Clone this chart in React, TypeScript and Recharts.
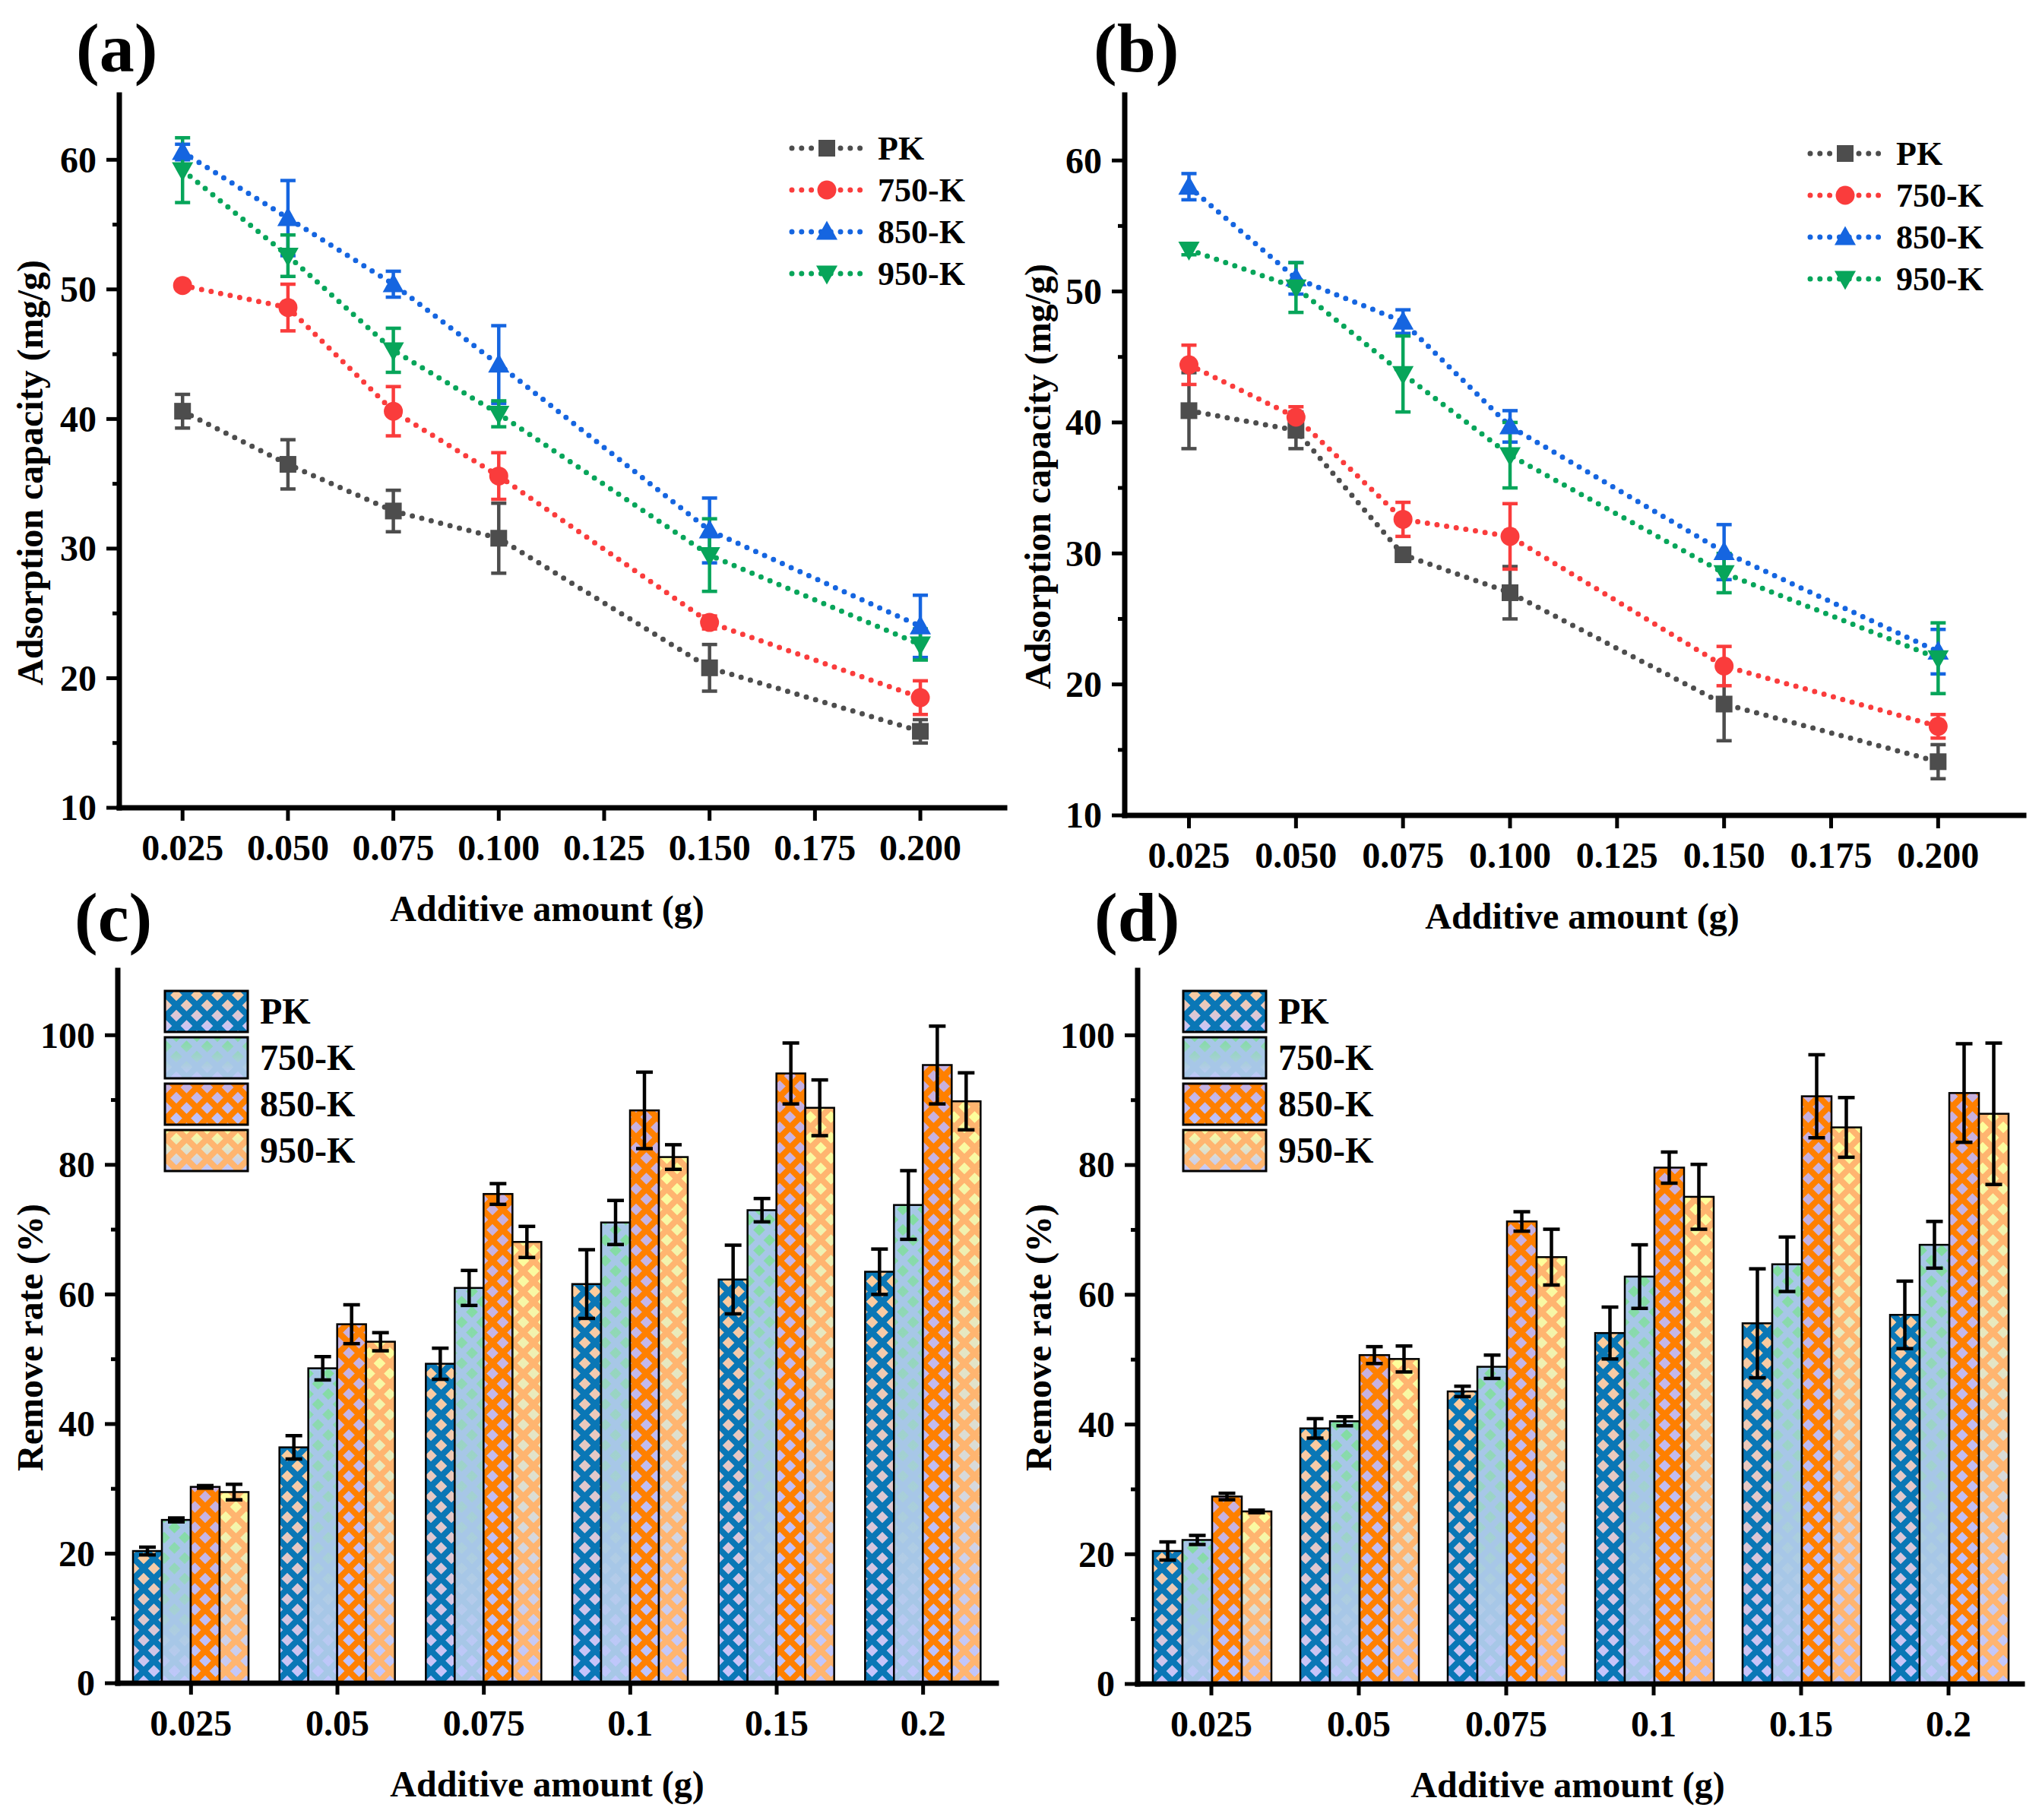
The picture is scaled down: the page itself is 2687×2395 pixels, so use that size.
import React from 'react'
import { LineChart, Line, BarChart, Bar, XAxis, YAxis, ErrorBar, Legend } from 'recharts'

const FONT = '"Liberation Serif", "Times New Roman", serif'

// x values of the adsorption curves
const doses = [0.025, 0.05, 0.075, 0.1, 0.15, 0.2]
const doseTicks = [0.025, 0.05, 0.075, 0.1, 0.125, 0.15, 0.175, 0.2]
const capTicks = [10, 15, 20, 25, 30, 35, 40, 45, 50, 55, 60]

// (a) adsorption capacity (mg/g)
const aPK = [40.6, 36.5, 32.9, 30.8, 20.8, 15.9]
const aPKErr = [1.3, 1.9, 1.6, 2.7, 1.8, 0.9]
const a750 = [50.3, 48.6, 40.6, 35.6, 24.3, 18.5]
const a750Err = [0.3, 1.8, 1.9, 1.8, 0.5, 1.3]
const a850 = [60.6, 55.5, 50.4, 44.2, 31.4, 24.0]
const a850Err = [0.6, 2.9, 1.0, 3.0, 2.5, 2.4]
const a950 = [59.2, 52.6, 45.3, 40.4, 29.5, 22.6]
const a950Err = [2.5, 1.6, 1.7, 1.0, 2.8, 1.2]

// (b) adsorption capacity (mg/g)
const bPK = [40.9, 39.4, 29.9, 27.0, 18.5, 14.1]
const bPKErr = [2.9, 1.4, 0.5, 2.0, 2.8, 1.3]
const b750 = [44.4, 40.4, 32.6, 31.3, 21.4, 16.8]
const b750Err = [1.5, 0.8, 1.3, 2.5, 1.5, 0.9]
const b850 = [58.0, 51.0, 47.7, 39.7, 30.1, 22.5]
const b850Err = [1.0, 1.2, 0.9, 1.2, 2.1, 1.7]
const b950 = [53.2, 50.3, 43.7, 37.5, 28.5, 22.0]
const b950Err = [0.4, 1.9, 2.9, 2.5, 1.5, 2.7]

// bar categories
const doseCats = ['0.025', '0.05', '0.075', '0.1', '0.15', '0.2']
const rateTicks = [0, 10, 20, 30, 40, 50, 60, 70, 80, 90, 100]

// (c) remove rate (%)
const cPK = [20.4, 36.4, 49.3, 61.6, 62.3, 63.5]
const cPKErr = [0.6, 1.8, 2.4, 5.3, 5.3, 3.5]
const c750 = [25.2, 48.6, 61.0, 71.1, 73.0, 73.8]
const c750Err = [0.3, 1.8, 2.7, 3.4, 1.8, 5.3]
const c850 = [30.3, 55.4, 75.5, 88.4, 94.1, 95.4]
const c850Err = [0.2, 3.0, 1.6, 5.9, 4.7, 6.0]
const c950 = [29.5, 52.7, 68.1, 81.2, 88.8, 89.8]
const c950Err = [1.2, 1.4, 2.4, 1.9, 4.3, 4.4]

// (d) remove rate (%)
const dPK = [20.5, 39.4, 45.1, 54.1, 55.6, 56.9]
const dPKErr = [1.4, 1.5, 0.8, 4.0, 8.4, 5.2]
const d750 = [22.2, 40.5, 48.9, 62.8, 64.7, 67.7]
const d750Err = [0.7, 0.7, 1.8, 4.9, 4.2, 3.6]
const d850 = [28.9, 50.7, 71.3, 79.6, 90.6, 91.1]
const d850Err = [0.5, 1.3, 1.5, 2.4, 6.4, 7.6]
const d950 = [26.6, 50.1, 65.8, 75.1, 85.8, 87.9]
const d950Err = [0.2, 2.0, 4.3, 5.0, 4.6, 10.9]

const seriesNames = ['PK', '750-K', '850-K', '950-K']
const lineColors = ['#4d4d4d', '#fa3c3c', '#1565e0', '#07a55a']
const markerShapes = ['square', 'circle', 'up', 'down']

const barLattice = ['#0a77b6', '#a7c7e7', '#ff8000', '#ffb570']
const barTop = ['#ffcc99', '#80dd9f', '#c8b0de', '#ffff99']
const barBottom = ['#c4c4ff', '#c2c6ff', '#bcc4ff', '#c0c4ff']

const buildRows = (xs: any[], vals: number[][], errs: number[][]) =>
  xs.map((x, i) => {
    const row: any = { x }
    vals.forEach((v, k) => {
      row[`s${k}`] = v[i]
      row[`e${k}`] = errs[k][i]
    })
    return row
  })

const txt = { fontFamily: FONT, fontWeight: 700, fill: '#000' }

const marker = (shape: string, cx: number, cy: number, color: string, key?: string) => {
  if (shape === 'square') return <rect key={key} x={cx - 11} y={cy - 11} width={22} height={22} fill={color} />
  if (shape === 'circle') return <circle key={key} cx={cx} cy={cy} r={12.5} fill={color} />
  if (shape === 'up')
    return <polygon key={key} points={`${cx},${cy - 14.5} ${cx - 14},${cy + 10.5} ${cx + 14},${cy + 10.5}`} fill={color} />
  return <polygon key={key} points={`${cx - 14},${cy - 10.5} ${cx + 14},${cy - 10.5} ${cx},${cy + 14.5}`} fill={color} />
}

// left axis ticks with minor ticks between labelled ones
const makeYTick = (axisX: number, majorStep: number) => (props: any) => {
  const { y, payload } = props
  const v = payload.value
  const major = Math.abs(v / majorStep - Math.round(v / majorStep)) < 1e-6
  const len = major ? 17 : 9
  return (
    <g>
      <line x1={axisX - len} x2={axisX} y1={y} y2={y} stroke="#000" strokeWidth={5} />
      {major && (
        <text x={axisX - 30} y={y} dy="0.34em" textAnchor="end" fontSize={48} {...txt}>
          {v}
        </text>
      )}
    </g>
  )
}

const frame = { stroke: '#000', strokeWidth: 7, strokeLinecap: 'square' as const }
const tickFont = { fontSize: 48, ...txt }

// keep legend rows in series order (recharts sorts them by name)
const ordered = (payload: any[] = []) =>
  [...payload].sort((p, q) => seriesNames.indexOf(p.value) - seriesNames.indexOf(q.value))

const LineLegend = (props: any) => (
  <svg width={280} height={230}>
    {ordered(props.payload).map((entry: any, i: number) => {
      const k = seriesNames.indexOf(entry.value)
      const cy = 33 + i * 55
      return (
        <g key={entry.value}>
          <line x1={12} x2={103} y1={cy} y2={cy} stroke={lineColors[k]} strokeWidth={7}
            strokeDasharray="0 12.8" strokeLinecap="round" />
          {marker(markerShapes[k], 58, cy, lineColors[k])}
          <text x={125} y={cy} dy="0.34em" fontSize={44} {...txt}>{entry.value}</text>
        </g>
      )
    })}
  </svg>
)

const LinePanel = ({ rows, pos }: { rows: any[]; pos: any }) => (
  <div style={{ position: 'absolute', left: pos.left, top: pos.top }}>
    <LineChart width={pos.width} height={pos.height} data={rows}
      margin={{ top: pos.marginTop, right: 10, bottom: 0, left: 0 }}>
      <XAxis dataKey="x" type="number" domain={[0.01, 0.22]} ticks={doseTicks} interval={0}
        tickFormatter={(v: number) => v.toFixed(3)} height={165} tickSize={17} tickMargin={18}
        axisLine={frame} tickLine={{ stroke: '#000', strokeWidth: 5 }} tick={tickFont} />
      <XAxis xAxisId="top" orientation="top" dataKey="x" type="number" domain={[0.01, 0.22]}
        height={0} tick={false} tickLine={false} axisLine={frame} />
      <YAxis type="number" domain={[10, 65]} ticks={capTicks} interval={0} width={pos.yw}
        tickLine={false} axisLine={frame} tick={makeYTick(pos.yw, 10)} />
      <YAxis yAxisId="right" orientation="right" type="number" domain={[10, 65]} width={0}
        tick={false} tickLine={false} axisLine={frame} />
      <Legend layout="vertical" align="center" verticalAlign="middle" content={LineLegend}
        wrapperStyle={{ left: 1030, top: pos.legendTop, width: 280, height: 230 }} />
      {seriesNames.map((name, k) => (
        <Line key={name} name={name} dataKey={`s${k}`} stroke={lineColors[k]} strokeWidth={7}
          strokeDasharray="0 12.8" strokeLinecap="round" isAnimationActive={false} activeDot={false}
          dot={(p: any) => marker(markerShapes[k], p.cx, p.cy, lineColors[k], `${name}-${p.index}`)}>
          <ErrorBar dataKey={`e${k}`} direction="y" width={10} strokeWidth={4.5} stroke={lineColors[k]} />
        </Line>
      ))}
      <text x={pos.xTitle[0]} y={pos.xTitle[1]} dy="0.34em" textAnchor="middle" fontSize={48} {...txt}>
        Additive amount (g)
      </text>
      <text x={pos.yTitle[0]} y={pos.yTitle[1]} dy="0.34em" textAnchor="middle" fontSize={48} {...txt}
        transform={`rotate(-90 ${pos.yTitle[0]} ${pos.yTitle[1]})`}>
        Adsorption capacity (mg/g)
      </text>
    </LineChart>
  </div>
)

const BarDefs = ({ id }: { id: string }) => (
  <defs>
    {seriesNames.map((_, k) => (
      <React.Fragment key={k}>
        <linearGradient id={`${id}-g${k}`} x1="0" y1="0" x2="0" y2="1">
          <stop offset="0%" stopColor={barTop[k]} />
          <stop offset="100%" stopColor={barBottom[k]} />
        </linearGradient>
        <pattern id={`${id}-p${k}`} patternUnits="userSpaceOnUse" width={27} height={27}>
          <path d="M-5,-5 L32,32 M32,-5 L-5,32 M-5,22 L5,32 M22,-5 L32,5 M-5,5 L5,-5 M22,32 L32,22"
            stroke={barLattice[k]} strokeWidth={8} fill="none" />
        </pattern>
      </React.Fragment>
    ))}
  </defs>
)

const makeBarShape = (id: string, k: number) => (p: any) => {
  const { x, y, width, height } = p
  if (!height || height <= 0) return <g />
  return (
    <g>
      <rect x={x} y={y} width={width} height={height} fill={`url(#${id}-g${k})`} />
      <rect x={x} y={y} width={width} height={height} fill={`url(#${id}-p${k})`} />
      <rect x={x} y={y} width={width} height={height} fill="none" stroke="#000" strokeWidth={2.5} />
    </g>
  )
}

const makeBarLegend = (id: string) => (props: any) => (
  <svg width={300} height={260}>
    {ordered(props.payload).map((entry: any, i: number) => {
      const k = seriesNames.indexOf(entry.value)
      const top = 8 + i * 61
      return (
        <g key={entry.value}>
          <rect x={12} y={top} width={109} height={54} fill={`url(#${id}-g${k})`} />
          <rect x={12} y={top} width={109} height={54} fill={`url(#${id}-p${k})`} />
          <rect x={12} y={top} width={109} height={54} fill="none" stroke="#000" strokeWidth={3} />
          <text x={137} y={top + 27} dy="0.34em" fontSize={48} {...txt}>{entry.value}</text>
        </g>
      )
    })}
  </svg>
)

const BarPanel = ({ rows, pos, id }: { rows: any[]; pos: any; id: string }) => (
  <div style={{ position: 'absolute', left: pos.left, top: pos.top }}>
    <BarChart width={pos.width} height={pos.height} data={rows} barCategoryGap={20} barGap={0}
      margin={{ top: pos.marginTop, right: 10, bottom: 0, left: 0 }}>
      <BarDefs id={id} />
      <XAxis dataKey="x" height={165} tickSize={15} tickMargin={20} interval={0}
        axisLine={frame} tickLine={{ stroke: '#000', strokeWidth: 5 }} tick={tickFont} />
      <XAxis xAxisId="top" orientation="top" dataKey="x" height={0} tick={false} tickLine={false} axisLine={frame} />
      <YAxis type="number" domain={[0, 110]} ticks={rateTicks} interval={0} width={pos.yw}
        tickLine={false} axisLine={frame} tick={makeYTick(pos.yw, 20)} />
      <YAxis yAxisId="right" orientation="right" type="number" domain={[0, 110]} width={0}
        tick={false} tickLine={false} axisLine={frame} />
      <Legend layout="vertical" align="center" verticalAlign="middle" content={makeBarLegend(id)}
        wrapperStyle={{ left: 205, top: 96, width: 300, height: 260 }} />
      {seriesNames.map((name, k) => (
        <Bar key={name} name={name} dataKey={`s${k}`} fill={barLattice[k]} shape={makeBarShape(id, k)}
          isAnimationActive={false}>
          <ErrorBar dataKey={`e${k}`} direction="y" width={11} strokeWidth={4.5} stroke="#000" />
        </Bar>
      ))}
      <text x={pos.xTitle[0]} y={pos.xTitle[1]} dy="0.34em" textAnchor="middle" fontSize={48} {...txt}>
        Additive amount (g)
      </text>
      <text x={pos.yTitle[0]} y={pos.yTitle[1]} dy="0.34em" textAnchor="middle" fontSize={48} {...txt}
        transform={`rotate(-90 ${pos.yTitle[0]} ${pos.yTitle[1]})`}>
        Remove rate (%)
      </text>
    </BarChart>
  </div>
)

const rowsA = buildRows(doses, [aPK, a750, a850, a950], [aPKErr, a750Err, a850Err, a950Err])
const rowsB = buildRows(doses, [bPK, b750, b850, b950], [bPKErr, b750Err, b850Err, b950Err])
const rowsC = buildRows(doseCats, [cPK, c750, c850, c950], [cPKErr, c750Err, c850Err, c950Err])
const rowsD = buildRows(doseCats, [dPK, d750, d850, d950], [dPKErr, d750Err, d850Err, d950Err])

const posA = { left: 0, top: 0, width: 1332, height: 1228, marginTop: 125, yw: 157, legendTop: 162, xTitle: [720, 1196], yTitle: [40, 622] }
const posB = { left: 1340, top: 0, width: 1333, height: 1238, marginTop: 125, yw: 140, legendTop: 169, xTitle: [742, 1206], yTitle: [26, 627] }
const posC = { left: 0, top: 1200, width: 1321, height: 1180, marginTop: 77, yw: 155, xTitle: [720, 1148], yTitle: [40, 560] }
const posD = { left: 1340, top: 1200, width: 1331, height: 1181, marginTop: 77, yw: 157, xTitle: [723, 1149], yTitle: [27, 560] }

export default function App() {
  return (
    <div style={{ position: 'absolute', left: 0, top: 0, width: 2687, height: 2395, background: '#fff', overflow: 'hidden' }}>
      <LinePanel rows={rowsA} pos={posA} />
      <LinePanel rows={rowsB} pos={posB} />
      <BarPanel rows={rowsC} pos={posC} id="pc" />
      <BarPanel rows={rowsD} pos={posD} id="pd" />
      <svg width={2687} height={2395} style={{ position: 'absolute', left: 0, top: 0, pointerEvents: 'none' }}>
        <text x={100} y={94} fontSize={92} {...txt}>(a)</text>
        <text x={1439} y={94} fontSize={92} {...txt}>(b)</text>
        <text x={98} y={1238} fontSize={92} {...txt}>(c)</text>
        <text x={1440} y={1238} fontSize={92} {...txt}>(d)</text>
      </svg>
    </div>
  )
}
